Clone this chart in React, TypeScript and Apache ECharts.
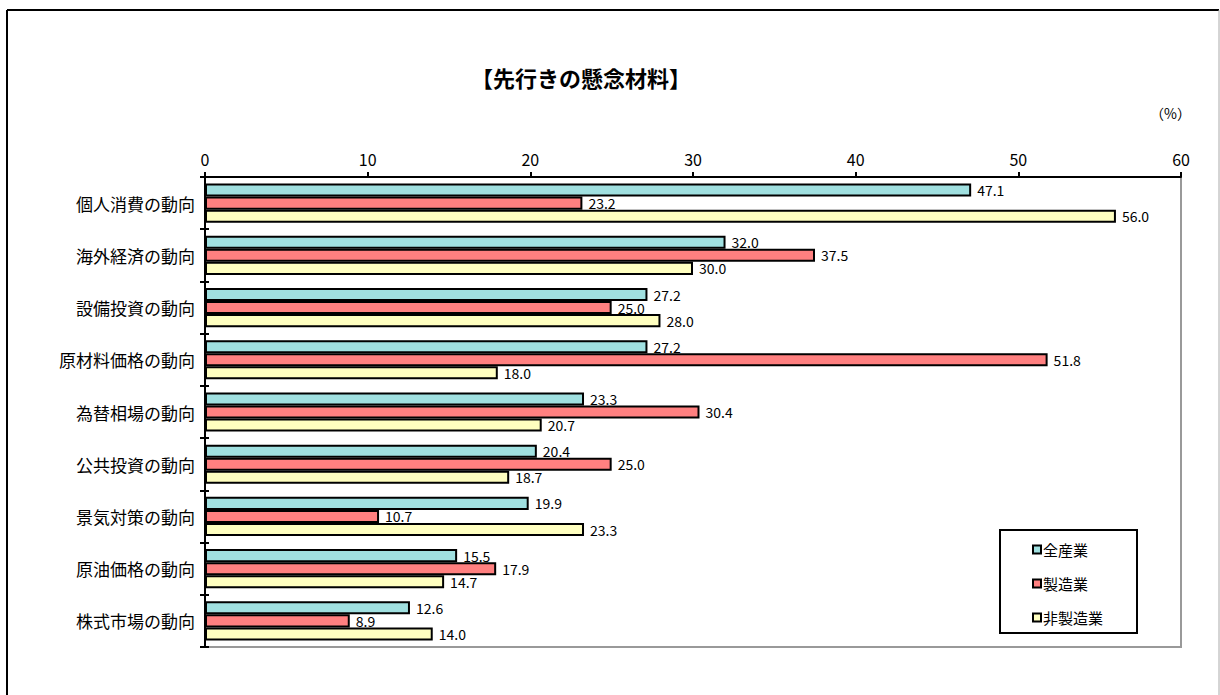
import React, { useEffect, useRef } from "react";
import * as echarts from "echarts";

const categories = [
  "個人消費の動向",
  "海外経済の動向",
  "設備投資の動向",
  "原材料価格の動向",
  "為替相場の動向",
  "公共投資の動向",
  "景気対策の動向",
  "原油価格の動向",
  "株式市場の動向",
];
const allIndustry = [47.1, 32.0, 27.2, 27.2, 23.3, 20.4, 19.9, 15.5, 12.6];
const manufacturing = [23.2, 37.5, 25.0, 51.8, 30.4, 25.0, 10.7, 17.9, 8.9];
const nonManufacturing = [56.0, 30.0, 28.0, 18.0, 20.7, 18.7, 23.3, 14.7, 14.0];
const seriesNames = ["全産業", "製造業", "非製造業"];
const colors = ["#a0e0e0", "#ff8080", "#ffffc0"];

const FONT = "'Noto Sans CJK JP', 'Noto Sans', sans-serif";

export default function App() {
  const ref = useRef<HTMLDivElement>(null);
  useEffect(() => {
    if (!ref.current) return;
    const chart = echarts.init(ref.current, null, { renderer: "svg" });
    const mk = (name: string, data: number[], color: string) => ({
      name,
      type: "bar",
      data,
      barGap: "0%",
      barCategoryGap: "25%",
      itemStyle: { color, borderColor: "#000", borderWidth: 2 },
      label: {
        show: true,
        position: "right",
        distance: 6,
        color: "#000",
        fontSize: 14,
        fontFamily: FONT,
        formatter: (p: any) => Number(p.value).toFixed(1),
      },
    });
    chart.setOption({
      animation: false,
      backgroundColor: "#fff",
      textStyle: { fontFamily: FONT },
      title: {
        text: "【先行きの懸念材料】",
        left: 466,
        top: 61,
        textStyle: { fontSize: 22, fontWeight: "bold", color: "#000", fontFamily: FONT },
      },
      grid: {
        left: 205,
        top: 177,
        width: 976,
        height: 470,
        show: true,
        borderColor: "#999",
        borderWidth: 2,
        backgroundColor: "transparent",
      },
      legend: {
        orient: "vertical",
        left: 1027,
        top: 537,
        itemWidth: 8,
        itemHeight: 8,
        itemGap: 19,
        icon: "rect",
        data: seriesNames,
        textStyle: { fontSize: 15, color: "#000", fontFamily: FONT, padding: [0, 0, 0, -3] },
        itemStyle: { borderColor: "#000", borderWidth: 2 },
      },
      xAxis: {
        type: "value",
        position: "top",
        min: 0,
        max: 60,
        interval: 10,
        axisLine: { show: true, lineStyle: { color: "#000", width: 2 } },
        axisTick: { show: true, length: 5, lineStyle: { color: "#000", width: 2 } },
        axisLabel: { fontSize: 16, color: "#000", margin: 10, fontFamily: FONT },
        splitLine: { show: false },
      },
      yAxis: [
        {
          type: "category",
          data: categories,
          inverse: true,
          axisLine: { show: true, lineStyle: { color: "#000", width: 2 } },
          axisTick: { show: true, length: 5, lineStyle: { color: "#000", width: 2 } },
          axisLabel: { fontSize: 17, color: "#000", margin: 10, fontFamily: FONT },
        },
        {
          type: "category",
          data: categories,
          inverse: true,
          position: "left",
          offset: 0,
          axisLine: { show: false },
          axisTick: { show: true, inside: true, length: 4, lineStyle: { color: "#000", width: 2 } },
          axisLabel: { show: false },
        },
      ],
      graphic: [
        { type: "line", shape: { x1: 7, y1: 10, x2: 1219, y2: 10 }, style: { stroke: "#000", lineWidth: 2 } },
        { type: "line", shape: { x1: 7, y1: 10, x2: 7, y2: 695 }, style: { stroke: "#000", lineWidth: 2 } },
        { type: "line", shape: { x1: 1219, y1: 10, x2: 1219, y2: 695 }, style: { stroke: "#aaa", lineWidth: 1 } },
        {
          type: "rect",
          shape: { x: 1000, y: 530, width: 137, height: 103 },
          style: { fill: "transparent", stroke: "#000", lineWidth: 2 },
          z: 10,
        },
        {
          type: "text",
          left: 1150,
          top: 106,
          style: { text: "（%）", fontSize: 14, fill: "#000", fontFamily: FONT },
        },
      ],
      series: [
        mk(seriesNames[0], allIndustry, colors[0]),
        mk(seriesNames[1], manufacturing, colors[1]),
        mk(seriesNames[2], nonManufacturing, colors[2]),
      ],
    });
    return () => chart.dispose();
  }, []);
  return (
    <div
      ref={ref}
      style={{ position: "fixed", left: 0, top: 0, width: 1220, height: 695, background: "#fff" }}
    />
  );
}
